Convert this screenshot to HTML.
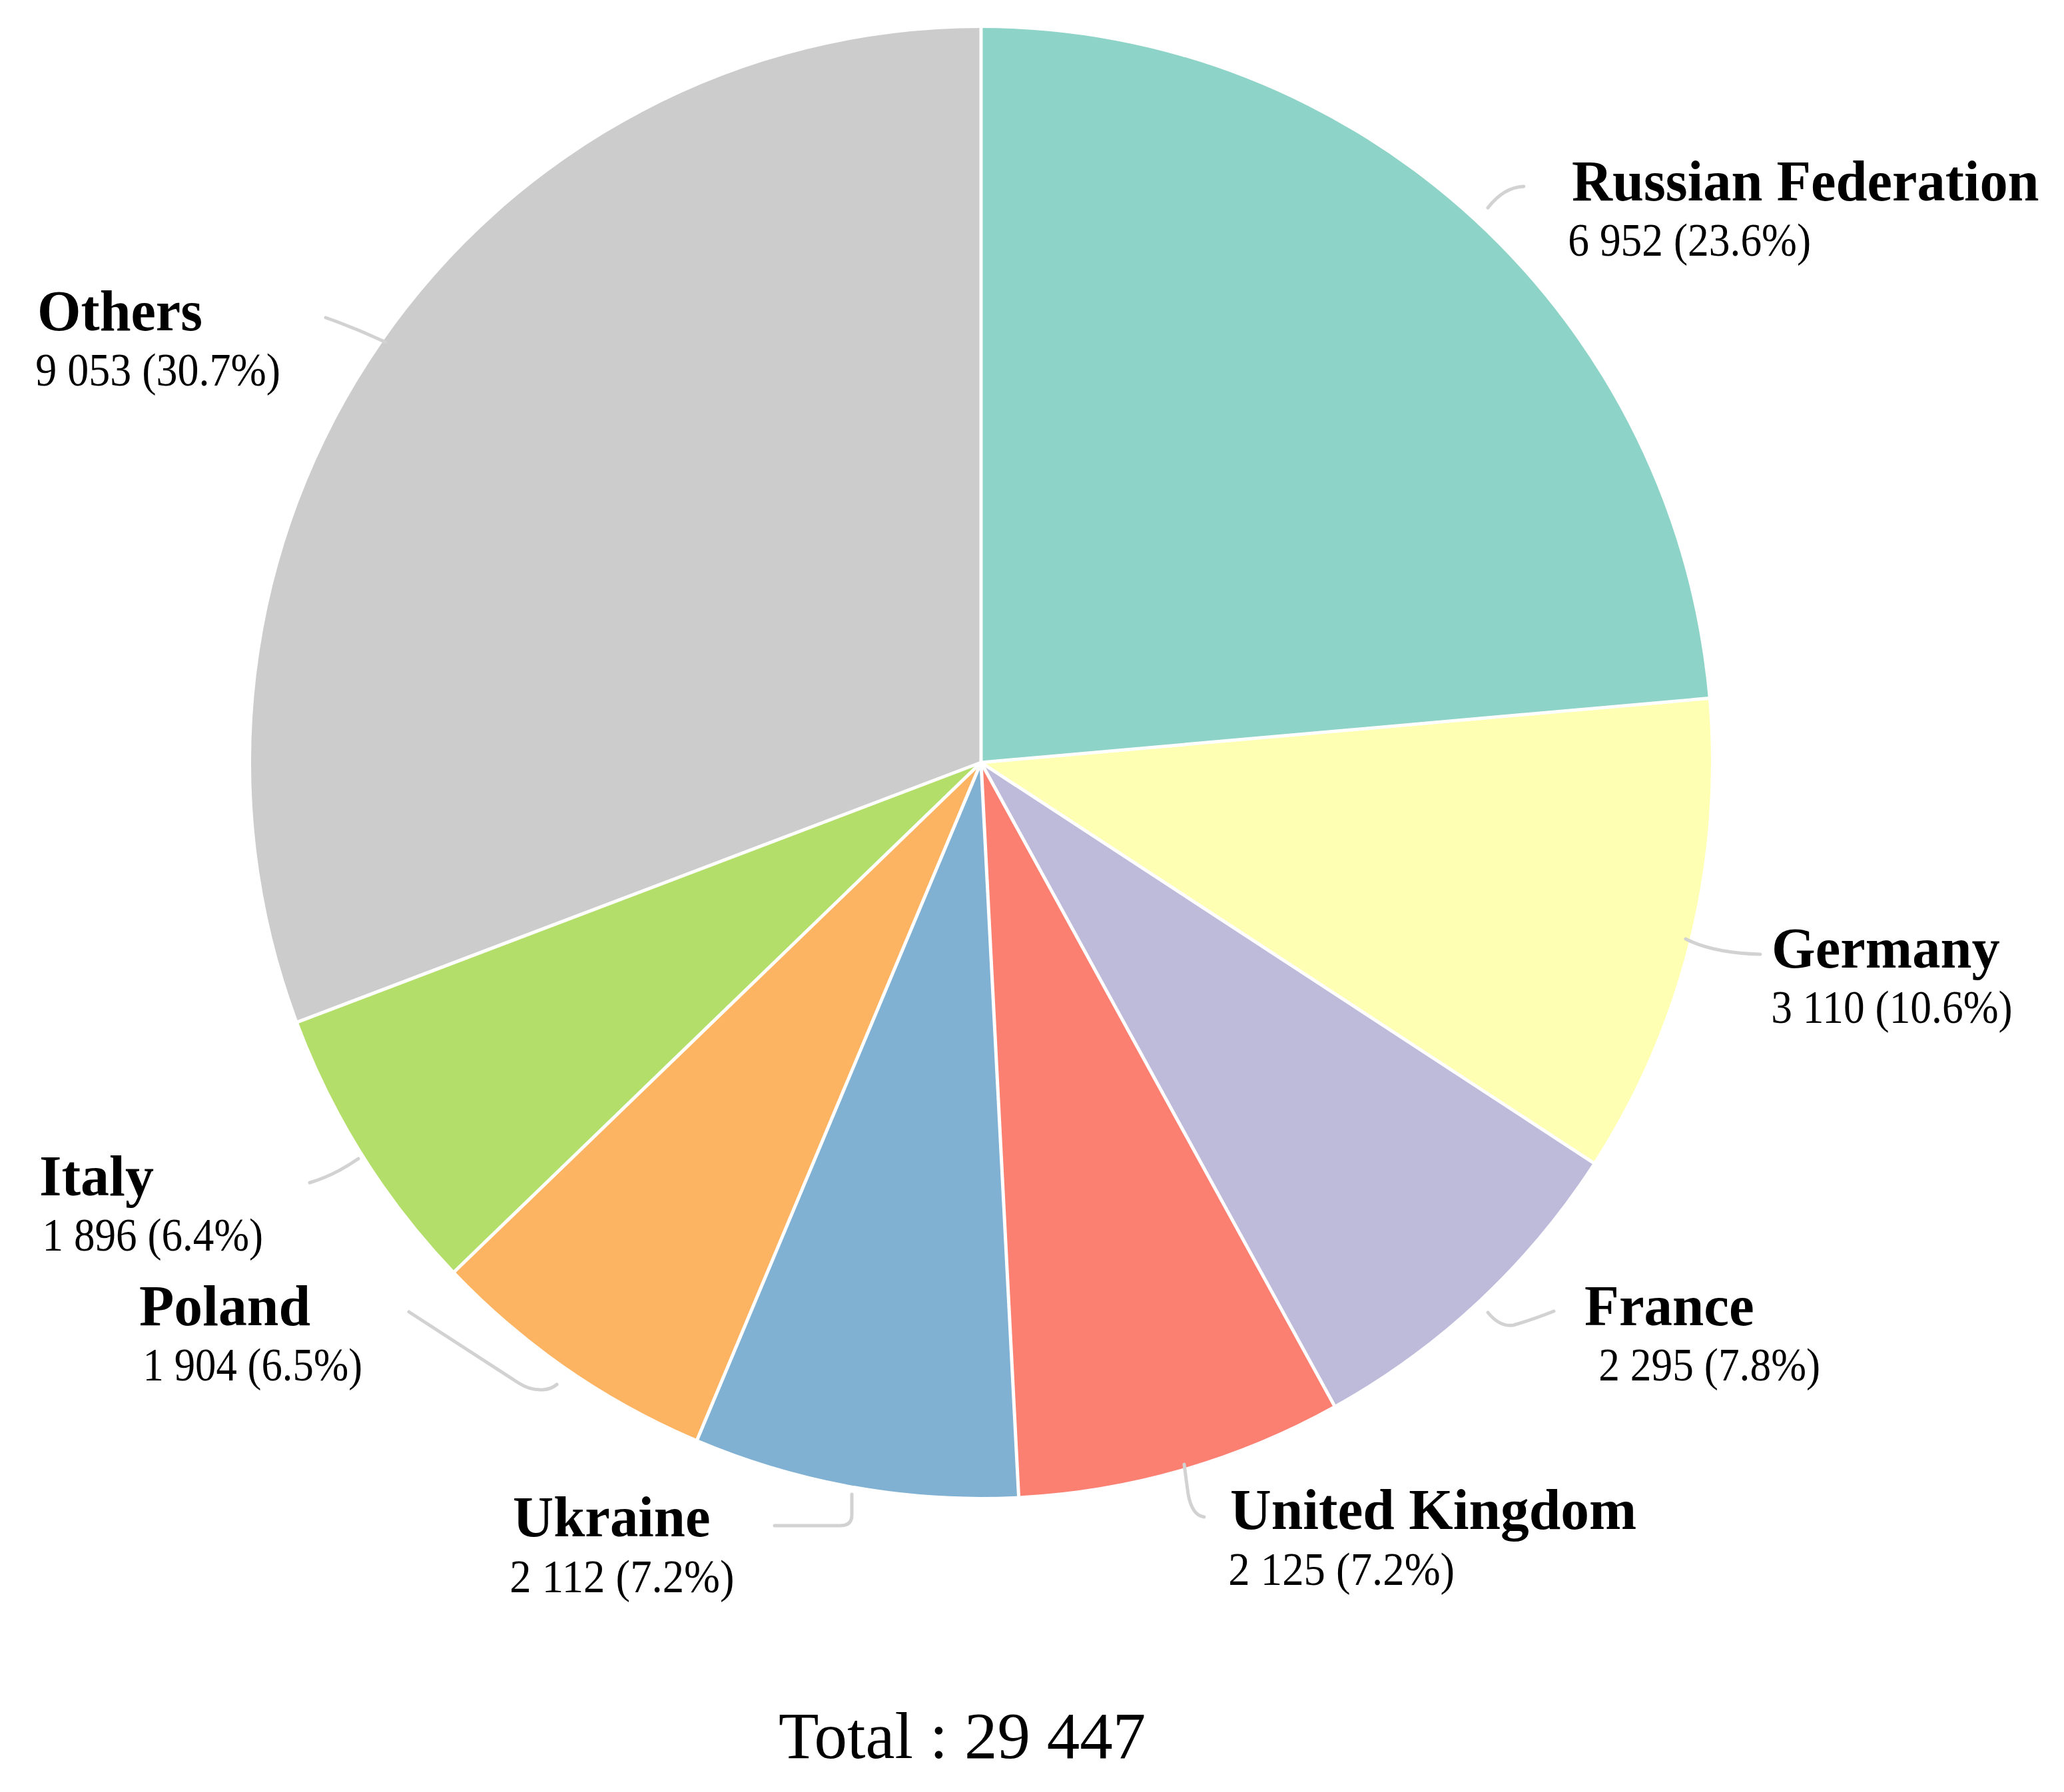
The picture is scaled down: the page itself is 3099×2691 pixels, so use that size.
<!DOCTYPE html>
<html><head><meta charset="utf-8"><title>Pie chart</title>
<style>
html,body{margin:0;padding:0;background:#fff;overflow:hidden;}
svg{display:block;}
text{font-family:"Liberation Serif","Times New Roman",serif;fill:#000;}
.n{font-weight:bold;font-size:87px;}
.v{font-size:70px;}
.t{font-size:99px;}
</style></head>
<body>
<svg width="3099" height="2691" viewBox="0 0 3099 2691">
<rect width="3099" height="2691" fill="#fff"/>
<g>
<path d="M1473.0,1145.0L1473.0,42.0A1096.0,1103.0 0 0 1 2564.8,1048.7Z" fill="#8dd3c7"/>
<path d="M1473.0,1145.0L2564.8,1048.7A1096.0,1103.0 0 0 1 2392.1,1745.9Z" fill="#ffffb3"/>
<path d="M1473.0,1145.0L2392.1,1745.9A1096.0,1103.0 0 0 1 2003.2,2110.3Z" fill="#bebada"/>
<path d="M1473.0,1145.0L2003.2,2110.3A1096.0,1103.0 0 0 1 1529.5,2246.5Z" fill="#fb8072"/>
<path d="M1473.0,1145.0L1529.5,2246.5A1096.0,1103.0 0 0 1 1047.1,2161.3Z" fill="#80b1d3"/>
<path d="M1473.0,1145.0L1047.1,2161.3A1096.0,1103.0 0 0 1 682.7,1909.2Z" fill="#fdb462"/>
<path d="M1473.0,1145.0L682.7,1909.2A1096.0,1103.0 0 0 1 447.6,1534.5Z" fill="#b3de69"/>
<path d="M1473.0,1145.0L447.6,1534.5A1096.0,1103.0 0 0 1 1473.0,42.0Z" fill="#cccccc"/>
</g>
<g stroke="#fff" stroke-width="5" stroke-linecap="butt">
<line x1="1473.0" y1="1145.0" x2="1473.0" y2="38.0"/>
<line x1="1473.0" y1="1145.0" x2="2568.8" y2="1048.3"/>
<line x1="1473.0" y1="1145.0" x2="2395.4" y2="1748.1"/>
<line x1="1473.0" y1="1145.0" x2="2005.1" y2="2113.8"/>
<line x1="1473.0" y1="1145.0" x2="1529.7" y2="2250.5"/>
<line x1="1473.0" y1="1145.0" x2="1045.5" y2="2165.0"/>
<line x1="1473.0" y1="1145.0" x2="679.8" y2="1912.0"/>
<line x1="1473.0" y1="1145.0" x2="443.8" y2="1535.9"/>
</g>
<g fill="none" stroke="#d2d2d2" stroke-width="5" stroke-linecap="round" stroke-linejoin="round">
<path d="M2234,312 Q2258,281 2288,280"/>
<path d="M2531,1410 Q2572,1431 2643,1433"/>
<path d="M2234,1971 Q2252,1993 2272,1990 Q2300,1982 2333,1969"/>
<path d="M1778,2199 L1784,2244 Q1790,2276 1808,2278"/>
<path d="M1279,2244 L1279,2275 Q1279,2291 1262,2291 L1163,2291"/>
<path d="M614,1970 L779,2077 Q796,2088 815,2087 Q828,2086 836,2079"/>
<path d="M465,1776 Q502,1765 538,1740"/>
<path d="M489,477 Q535,493 579,514"/>
</g>
<g>
<text class="n" x="2360.0" y="301" textLength="701.6" lengthAdjust="spacingAndGlyphs">Russian Federation</text>
<text class="v" x="2354.3" y="384" textLength="364.8" lengthAdjust="spacingAndGlyphs">6 952 (23.6%)</text>
<text class="n" x="2660.1" y="1453" textLength="342.6" lengthAdjust="spacingAndGlyphs">Germany</text>
<text class="v" x="2659.3" y="1536" textLength="362.3" lengthAdjust="spacingAndGlyphs">3 110 (10.6%)</text>
<text class="n" x="2379.0" y="1990" textLength="254.8" lengthAdjust="spacingAndGlyphs">France</text>
<text class="v" x="2400.3" y="2073" textLength="332.8" lengthAdjust="spacingAndGlyphs">2 295 (7.8%)</text>
<text class="n" x="1847.0" y="2296" textLength="610.1" lengthAdjust="spacingAndGlyphs">United Kingdom</text>
<text class="v" x="1844.2" y="2380" textLength="340.0" lengthAdjust="spacingAndGlyphs">2 125 (7.2%)</text>
<text class="n" x="770.1" y="2307" textLength="296.4" lengthAdjust="spacingAndGlyphs">Ukraine</text>
<text class="v" x="765.2" y="2391" textLength="337.4" lengthAdjust="spacingAndGlyphs">2 112 (7.2%)</text>
<text class="n" x="209.0" y="1990" textLength="257.1" lengthAdjust="spacingAndGlyphs">Poland</text>
<text class="v" x="214.6" y="2073" textLength="329.5" lengthAdjust="spacingAndGlyphs">1 904 (6.5%)</text>
<text class="n" x="59.0" y="1795" textLength="172.0" lengthAdjust="spacingAndGlyphs">Italy</text>
<text class="v" x="63.6" y="1878" textLength="331.5" lengthAdjust="spacingAndGlyphs">1 896 (6.4%)</text>
<text class="n" x="56.1" y="496" textLength="247.9" lengthAdjust="spacingAndGlyphs">Others</text>
<text class="v" x="53.2" y="579" textLength="368.0" lengthAdjust="spacingAndGlyphs">9 053 (30.7%)</text>
<text class="t" x="1169.0" y="2640" textLength="551.3" lengthAdjust="spacingAndGlyphs">Total : 29 447</text>
</g>
</svg>
</body></html>
